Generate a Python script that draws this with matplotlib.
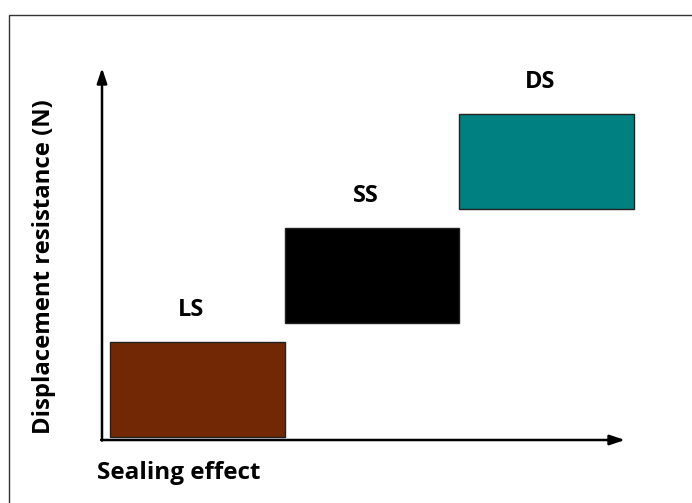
import matplotlib
matplotlib.use("Agg")
import matplotlib.pyplot as plt
from matplotlib.patches import Rectangle

# Data
categories = ["LS", "SS", "DS"]
x_start = [0.0, 1.0, 2.0]          # sealing effect (arbitrary units)
box_width = [1.0, 1.0, 1.0]
y_low = [0.0, 1.0, 2.0]            # displacement resistance (arbitrary units)
y_high = [0.83, 1.83, 2.83]
colors = ["#722805", "#000000", "#008080"]
x_label = "Sealing effect"
y_label = "Displacement resistance (N)"

W, H = 692, 503
fig = plt.figure(figsize=(W / 100, H / 100), dpi=100)
ax = fig.add_axes([0, 0, 1, 1])

# map pixels: x unit = 174.5 px, origin at px 110; y unit = 114 px, origin at px 437 (from top)
xu, x0 = 174.5, 110
yu, y0 = 114.0, 437
ax.set_xlim((0 - x0) / xu, (W - x0) / xu)
ax.set_ylim((y0 - H) / yu, y0 / yu)
ax.axis("off")

font = ["Open Sans", "DejaVu Sans"]

for c, xs, w, lo, hi, col in zip(categories, x_start, box_width, y_low, y_high, colors):
    ax.add_patch(Rectangle((xs, lo), w, hi - lo, facecolor=col, edgecolor="#222222", linewidth=1.0))
    ax.text(xs + w / 2 - 0.035, hi + 0.28, c, ha="center", va="center",
            fontsize=17, fontweight="bold", family=font)

# axes arrows
ax_x = (102 - x0) / xu
ax_y = (y0 - 440) / yu
ax.annotate("", xy=((625 - x0) / xu, ax_y), xytext=(ax_x - 0.005, ax_y),
            arrowprops=dict(arrowstyle="-|>,head_length=0.9,head_width=0.3", color="black", lw=1.8,
                            shrinkA=0, shrinkB=0))
ax.annotate("", xy=(ax_x, (y0 - 68) / yu), xytext=(ax_x, ax_y - 0.005),
            arrowprops=dict(arrowstyle="-|>,head_length=0.9,head_width=0.3", color="black", lw=1.8,
                            shrinkA=0, shrinkB=0))

# axis labels
ax.text((97 - x0) / xu, (y0 - 473) / yu, x_label, ha="left", va="center",
        fontsize=17.5, fontweight="bold", family=font)
ax.text((44 - x0) / xu, (y0 - 267) / yu, y_label, ha="center", va="center", rotation=90,
        fontsize=17.2, fontweight="bold", family=font)

# outer border (left and top visible)
fig.add_artist(Rectangle((9 / W, -0.1), 1.2, 1.1 - 15 / H, transform=fig.transFigure,
                         facecolor="none", edgecolor="#333333", linewidth=1.0))

fig.savefig("out.png", dpi=100)
